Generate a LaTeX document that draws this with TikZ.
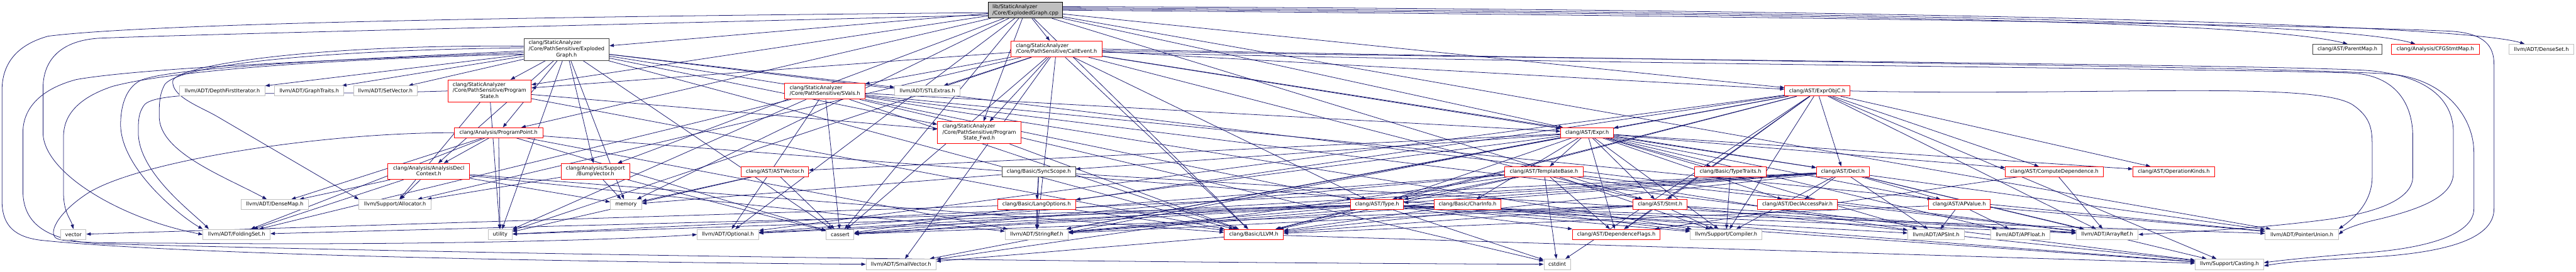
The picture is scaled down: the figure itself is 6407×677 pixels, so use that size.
\documentclass[tikz,border=0pt]{standalone}
\usepackage{fontspec}
\setmainfont{DejaVu Sans}
\usetikzlibrary{arrows.meta}
\definecolor{edgeblue}{HTML}{191970}
\definecolor{leafgray}{HTML}{BFBFBF}
\definecolor{trunc}{HTML}{FF0000}
\definecolor{docgray}{HTML}{404040}
\newcommand{\twol}[2]{\begin{tabular}{@{}l@{}}#1\\\multicolumn{1}{@{}c@{}}{#2}\end{tabular}}
\newcommand{\threel}[3]{\begin{tabular}{@{}l@{}}#1\\#2\\\multicolumn{1}{@{}c@{}}{#3}\end{tabular}}
\pgfdeclarelayer{bg}
\pgfsetlayers{bg,main}
\begin{document}
\begin{tikzpicture}[x=1pt,y=-1pt,
  box/.style={draw, rectangle, fill=white, inner sep=0pt, line width=1.4pt, font=\fontsize{12.8}{15}\selectfont},
  leaf/.style={box, draw=leafgray},
  trn/.style={box, draw=trunc},
  doc/.style={box, draw=docgray},
  root/.style={box, draw=black, fill=leafgray},
  h1/.style={minimum height=25pt},
  h2/.style={minimum height=40pt},
  h3/.style={minimum height=55pt},
  dep/.style={draw=edgeblue, line width=1.2pt, -{Triangle[length=11pt,width=8pt]}},
]
\useasboundingbox (0,0) rectangle (6407,677);
% ---- row 0/1
\node[root, minimum width=185pt, minimum height=39pt] (cpp) at (2550.5,25.5) {\twol{lib/StaticAnalyzer}{/Core/ExplodedGraph.cpp}};
\node[doc, minimum width=212pt, h3] (egh) at (1409,123) {\threel{clang/StaticAnalyzer}{/Core/PathSensitive/Exploded}{Graph.h}};
\node[trn, minimum width=227pt, h2] (call) at (2627.5,122) {\twol{clang/StaticAnalyzer}{/Core/PathSensitive/CallEvent.h}};
\node[doc, minimum width=171pt, h1] (pmap) at (5838.5,122.5) {clang/AST/ParentMap.h};
\node[trn, minimum width=220pt, h1] (cfgsm) at (6057,122.5) {clang/Analysis/CFGStmtMap.h};
\node[leaf, minimum width=160pt, h1] (dset) at (6321,122.5) {llvm/ADT/DenseSet.h};
% ---- row 2
\node[trn, minimum width=207pt, h3] (pstate) at (1217.5,226.5) {\threel{clang/StaticAnalyzer}{/Core/PathSensitive/Program}{State.h}};
\node[trn, minimum width=199pt, h2] (svals) at (2051.5,227) {\twol{clang/StaticAnalyzer}{/Core/PathSensitive/SVals.h}};
\node[leaf, minimum width=163pt, h1] (stlx) at (2306.5,226.5) {llvm/ADT/STLExtras.h};
\node[leaf, minimum width=212pt, h1] (dfi) at (553,226.5) {llvm/ADT/DepthFirstIterator.h};
\node[leaf, minimum width=172pt, h1] (gtr) at (769,226.5) {llvm/ADT/GraphTraits.h};
\node[leaf, minimum width=159pt, h1] (setv) at (958.5,226.5) {llvm/ADT/SetVector.h};
\node[trn, minimum width=162pt, h1] (eobjc) at (4520,226.5) {clang/AST/ExprObjC.h};
% ---- row 3
\node[trn, minimum width=207pt, h3] (psfwd) at (2435.5,330.5) {\threel{clang/StaticAnalyzer}{/Core/PathSensitive/Program}{State\_Fwd.h}};
\node[trn, minimum width=220pt, h1] (ppt) at (1240,330.5) {clang/Analysis/ProgramPoint.h};
\node[trn, minimum width=131pt, h1] (expr) at (3947.5,330.5) {clang/AST/Expr.h};
% ---- row 4
\node[trn, minimum width=203pt, h2] (adc) at (1066.5,427) {\twol{clang/Analysis/AnalysisDecl}{Context.h}};
\node[trn, minimum width=170pt, h2] (bump) at (1481,427) {\twol{clang/Analysis/Support}{/BumpVector.h}};
\node[trn, minimum width=167pt, h1] (astv) at (1927.5,427.5) {clang/AST/ASTVector.h};
\node[doc, minimum width=183pt, h1] (sync) at (2583.5,427.5) {clang/Basic/SyncScope.h};
\node[trn, minimum width=194pt, h1] (tbase) at (3840,427.5) {clang/AST/TemplateBase.h};
\node[trn, minimum width=178pt, h1] (ttr) at (4304,427.5) {clang/Basic/TypeTraits.h};
\node[trn, minimum width=131pt, h1] (decl) at (4583.5,427.5) {clang/AST/Decl.h};
\node[trn, minimum width=243pt, h1] (cdep) at (5109.5,427.5) {clang/AST/ComputeDependence.h};
\node[trn, minimum width=203pt, h1] (opk) at (5406.5,427.5) {clang/AST/OperationKinds.h};
% ---- row 5
\node[leaf, minimum width=167pt, h1] (dmap) at (683.5,509.5) {llvm/ADT/DenseMap.h};
\node[leaf, minimum width=179pt, h1] (alloc) at (982.5,509.5) {llvm/Support/Allocator.h};
\node[leaf, minimum width=78pt, h1] (mem) at (1557,509.5) {memory};
\node[trn, minimum width=194pt, h1] (lopt) at (2578,509.5) {clang/Basic/LangOptions.h};
\node[trn, minimum width=132pt, h1] (type) at (3425,509.5) {clang/AST/Type.h};
\node[trn, minimum width=166pt, h1] (cinfo) at (3650,509.5) {clang/Basic/CharInfo.h};
\node[trn, minimum width=134pt, h1] (stmt) at (4129,509.5) {clang/AST/Stmt.h};
\node[trn, minimum width=199pt, h1] (dap) at (4470.5,509.5) {clang/AST/DeclAccessPair.h};
\node[trn, minimum width=154pt, h1] (apv) at (4873,509.5) {clang/AST/APValue.h};
% ---- row 6
\node[leaf, minimum width=63pt, minimum height=26pt] (vec) at (182.5,584) {vector};
\node[leaf, minimum width=167pt, minimum height=26pt] (fset) at (588.5,584) {llvm/ADT/FoldingSet.h};
\node[leaf, minimum width=60pt, minimum height=26pt] (util) at (1244,584) {utility};
\node[leaf, minimum width=153pt, minimum height=26pt] (opt) at (1810.5,584) {llvm/ADT/Optional.h};
\node[leaf, minimum width=69pt, minimum height=26pt] (cass) at (2089.5,584) {cassert};
\node[leaf, minimum width=157pt, minimum height=26pt] (sref) at (2578.5,584) {llvm/ADT/StringRef.h};
\node[trn, minimum width=147pt, minimum height=26pt] (llvm) at (3118.5,584) {clang/Basic/LLVM.h};
\node[trn, minimum width=218pt, minimum height=26pt] (dflag) at (4020,584) {clang/AST/DependenceFlags.h};
\node[leaf, minimum width=178pt, minimum height=26pt] (comp) at (4293,584) {llvm/Support/Compiler.h};
\node[leaf, minimum width=141pt, minimum height=26pt] (apsi) at (4815.5,584) {llvm/ADT/APSInt.h};
\node[leaf, minimum width=148pt, minimum height=26pt] (apf) at (5025,584) {llvm/ADT/APFloat.h};
\node[leaf, minimum width=154pt, minimum height=26pt] (aref) at (5241,584) {llvm/ADT/ArrayRef.h};
\node[leaf, minimum width=182pt, minimum height=26pt] (punion) at (5725,584) {llvm/ADT/PointerUnion.h};
% ---- row 7
\node[leaf, minimum width=174pt, minimum height=26pt] (svec) at (2241,658) {llvm/ADT/SmallVector.h};
\node[leaf, minimum width=66pt, minimum height=26pt] (cstd) at (3873,658) {cstdint};
\node[leaf, minimum width=170pt, minimum height=26pt] (cast) at (5545,658) {llvm/Support/Casting.h};

\begin{pgfonlayer}{bg}
\fill[white] (0,0) rectangle (6407,677);
% straight edges
\foreach \t in {egh,expr,eobjc,stmt,ppt,bump,llvm,call,pstate,psfwd,opt,punion,cass,mem} \draw[dep] (cpp) -- (\t);
\foreach \t in {adc,ppt,bump,llvm,pstate,psfwd,aref,dfi,gtr,stlx,setv,comp,cass,mem,util} \draw[dep] (egh) -- (\t);
\foreach \t in {decl,expr,eobjc,stmt,type,llvm,pstate,psfwd,svals,stlx,svec,sref,alloc,cass,util} \draw[dep] (call) -- (\t);
\foreach \t in {llvm,psfwd,alloc,util} \draw[dep] (pstate) -- (\t);
\draw[dep] (psfwd) -- (llvm);
\foreach \t in {expr,type,llvm,fset,opt,punion,cast,cass,cstd,util} \draw[dep] (svals) -- (\t);
\foreach \t in {adc,dmap,fset,sref,cast,cass,util} \draw[dep] (ppt) -- (\t);
\foreach \t in {llvm,dmap,fset,sref,alloc,mem} \draw[dep] (adc) -- (\t);
\foreach \t in {alloc,cass,mem} \draw[dep] (bump) -- (\t);
\foreach \t in {apv,astv,cdep,decl,dap,dflag,opk,stmt,tbase,type,cinfo,lopt,sync,ttr,apf,apsi,svec,sref,comp} \draw[dep] (expr) -- (\t);
\foreach \t in {cdep,decl,dflag,expr,opk,stmt,type,llvm,aref,opt,sref,cast,comp,cass,cstd} \draw[dep] (eobjc) -- (\t);
\foreach \t in {cass,mem,util} \draw[dep] (astv) -- (\t);
\foreach \t in {lopt,aref,sref,mem} \draw[dep] (sync) -- (\t);
\foreach \t in {llvm,sref,vec} \draw[dep] (lopt) -- (\t);
\foreach \t in {dflag,type,llvm,apsi,aref,opt,svec,comp,cass,cstd} \draw[dep] (tbase) -- (\t);
\draw[dep] (ttr) -- (comp);
\foreach \t in {apv,dap,type,llvm,apsi,aref,opt,punion,sref,cast,comp,cass,util} \draw[dep] (decl) -- (\t);
\foreach \t in {dflag,aref} \draw[dep] (cdep) -- (\t);
\foreach \t in {dflag,llvm,apsi,aref,fset,opt,punion,sref,cast,comp,cass,cstd,util} \draw[dep] (type) -- (\t);
\foreach \t in {llvm,sref,comp} \draw[dep] (cinfo) -- (\t);
\foreach \t in {dflag,llvm,aref,sref,cast,comp,cass} \draw[dep] (stmt) -- (\t);
\foreach \t in {llvm,apf,apsi,punion} \draw[dep] (apv) -- (\t);
\foreach \t in {cast,svec} \draw[dep] (llvm) -- (\t);
% routed edges, left side
\draw[dep] ([yshift=-6pt]cpp.west) .. controls (1500,40) and (400,55) .. (120,90) .. controls (40,112) and (5,160) .. (5,225) -- (5,500) .. controls (5,565) and (40,590) .. (100,598) .. controls (500,640) and (1700,655) .. (svec.west);
\draw[dep] ([yshift=-12pt]cpp.west) .. controls (1500,62) and (500,85) .. (250,95) .. controls (150,100) and (107,150) .. (107,220) -- (107,330) .. controls (107,430) and (300,545) .. (fset.west);
\draw[dep] ([yshift=-12pt]egh.west) .. controls (900,145) and (450,170) .. (280,215) .. controls (190,245) and (158,290) .. (158,340) -- (158,480) .. controls (158,530) and (176,545) .. (vec.north);
\draw[dep] ([yshift=-8pt]egh.west) .. controls (800,150) and (350,170) .. (190,198) .. controls (100,222) and (57,270) .. (57,330) -- (57,475) .. controls (57,560) and (120,600) .. (250,607) .. controls (1500,640) and (3000,655) .. (cstd.west);
\draw[dep] ([yshift=-4pt]egh.west) .. controls (800,150) and (420,170) .. (350,200) .. controls (310,220) and (300,270) .. (300,310) .. controls (300,420) and (450,540) .. (fset.north west);
\draw[dep] (pstate.west) .. controls (700,240) and (400,220) .. (360,260) .. controls (344,280) and (344,300) .. (344,330) .. controls (344,430) and (480,530) .. ([xshift=15pt]fset.north west);
\draw[dep] ([yshift=4pt]egh.west) .. controls (800,125) and (450,160) .. (410,210) .. controls (396,235) and (396,260) .. (396,290) .. controls (396,380) and (560,440) .. ([xshift=-20pt]dmap.north);
\draw[dep] ([yshift=8pt]egh.west) .. controls (800,110) and (450,160) .. (430,200) .. controls (424,240) and (497,265) .. (540,290) -- (alloc.north west);
\draw[dep] (ppt.west) .. controls (800,330) and (350,400) .. (220,480) .. controls (150,525) and (120,575) .. (138,592) .. controls (160,608) and (300,604) .. (500,606) .. controls (1000,610) and (1500,600) .. (opt.west);
% routed edges, top and right side
\draw[dep] ([yshift=3pt]cpp.east) .. controls (4500,35) and (5600,50) .. (pmap.north);
\draw[dep] ([yshift=6pt]cpp.east) .. controls (4500,30) and (5800,50) .. ([xshift=-50pt]cfgsm.north);
\draw[dep] ([yshift=9pt]cpp.east) .. controls (4500,22) and (6100,55) .. ([xshift=-42pt]dset.north);
\draw[dep] (cpp.east) .. controls (4000,35) and (5800,62) .. (6100,78) .. controls (6180,84) and (6203,115) .. (6203,160) -- (6203,520) .. controls (6203,590) and (6100,628) .. (5900,640) .. controls (5780,647) and (5700,650) .. ([yshift=-4pt]cast.east);
\draw[dep] (call.east) .. controls (4000,150) and (5700,165) .. (5950,185) .. controls (6080,198) and (6153,290) .. (6153,380) -- (6153,520) .. controls (6153,580) and (6050,615) .. (5900,628) .. controls (5780,638) and (5700,645) .. ([yshift=4pt]cast.east);
\draw[dep] ([yshift=-4pt]call.east) .. controls (4000,150) and (5600,160) .. (5880,175) .. controls (6040,185) and (6102,250) .. (6102,330) -- (6102,430) .. controls (6102,490) and (6020,520) .. (5920,545) .. controls (5860,558) and (5830,572) .. (punion.east);
\draw[dep] ([yshift=-8pt]call.east) .. controls (4000,160) and (5600,172) .. (5850,182) .. controls (5960,188) and (6001,260) .. (6001,340) -- (6001,440) .. controls (6001,500) and (5900,530) .. (5800,545) .. controls (5600,572) and (5420,578) .. (aref.east);
\draw[dep] (eobjc.east) .. controls (5200,240) and (5750,200) .. (5850,260) .. controls (5895,290) and (5900,320) .. (5900,360) -- (5900,440) .. controls (5900,500) and (5860,540) .. (punion.north east);
\end{pgfonlayer}
\end{tikzpicture}
\end{document}
